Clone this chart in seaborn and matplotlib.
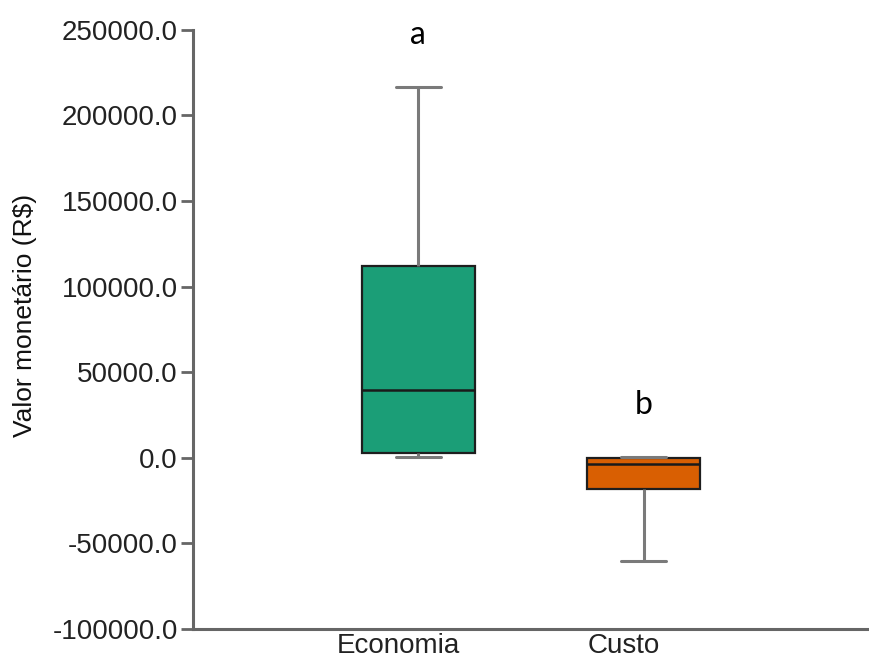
import numpy as np
import pandas as pd
import matplotlib
matplotlib.use("Agg")
import matplotlib.pyplot as plt
import matplotlib.transforms as mtransforms
import seaborn as sns

# values (five-number summary per group)
categories = ["Economia", "Custo"]
economia_vals = [500, 2900, 39700, 112000, 216700]
custo_vals = [-60200, -18100, -3500, 0, 300]
box_colors = ["#1b9e77", "#d95f02"]
letters = ["a", "b"]
letter_y = [247000, 31000]
y_ticks = [-100000, -50000, 0, 50000, 100000, 150000, 200000, 250000]

df = pd.DataFrame({
    "grupo": [categories[0]] * len(economia_vals) + [categories[1]] * len(custo_vals),
    "valor": economia_vals + custo_vals,
})

sns.set_style("white")
plt.rcParams["font.family"] = ["Liberation Sans", "DejaVu Sans"]

fig = plt.figure(figsize=(8.69, 6.62), dpi=100)
ax = fig.add_axes([0.222, 0.05, 0.778, 0.905])

sns.boxplot(data=df, x="grupo", y="valor", hue="grupo", order=categories,
            palette=box_colors, saturation=1, width=0.5, whis=(0, 100), legend=False,
            linewidth=1.6, linecolor="#1e1e1e", capwidths=0.2,
            whiskerprops={"color": "#7a7a7a", "linewidth": 2.2},
            capprops={"color": "#7a7a7a", "linewidth": 2.2},
            medianprops={"color": "#1a1a1a", "linewidth": 1.8},
            ax=ax)

# significance letters
for i, (lt, ly) in enumerate(zip(letters, letter_y)):
    ax.text(i, ly, lt, ha="center", va="center", fontsize=23, family="Lato", color="black")

ax.set_xlim(-1, 2)
ax.set_ylim(-100000, 250000)
ax.set_yticks(y_ticks)
ax.set_yticklabels([f"{v:.1f}" for v in y_ticks])
ax.set_xlabel("")
ax.set_ylabel("Valor monetário (R$)", fontsize=19, color="#111111")
ax.yaxis.set_label_coords(-0.231, 0.524)

ax.tick_params(axis="y", labelsize=20, length=9, width=2, color="#666666",
               labelcolor="#222222", pad=2, left=True)
ax.tick_params(axis="x", labelsize=20, length=0, labelcolor="#222222", pad=3)

# x labels sit a bit left of the boxes in the original
shift = mtransforms.ScaledTranslation(-20 / 100, 0, fig.dpi_scale_trans)
for lab in ax.get_xticklabels():
    lab.set_transform(lab.get_transform() + shift)

sns.despine(ax=ax)
for side in ["left", "bottom"]:
    ax.spines[side].set_color("#666666")
    ax.spines[side].set_linewidth(2.2)

fig.savefig("out.png", dpi=100)
